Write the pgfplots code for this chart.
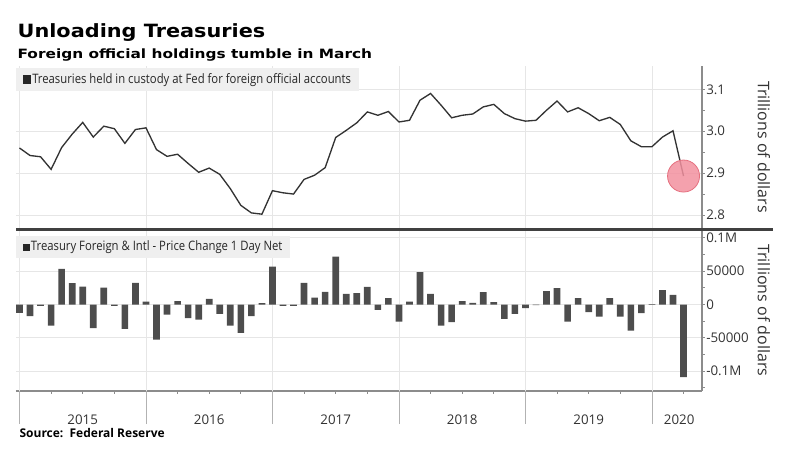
\documentclass[border=0pt]{standalone}
\usepackage{fontspec}
\setmainfont{Open Sans}
\newfontfamily\titlefont{DejaVu Sans}[FakeStretch=1.14]
\newfontfamily\subtitlefont{DejaVu Sans}[FakeStretch=1.2]
\newfontfamily\condfont{Open Sans}[FakeStretch=0.87]
\usepackage{pgfplots}
\pgfplotsset{compat=1.18}
\usepackage{pgfplotstable}

\definecolor{barc}{HTML}{4D4D4D}
\definecolor{linec}{HTML}{333333}
\definecolor{axisc}{HTML}{8C8C8C}
\definecolor{gridc}{HTML}{E6E6E6}
\definecolor{legbg}{HTML}{EFEFEF}
\definecolor{circfill}{HTML}{F2909F}
\definecolor{circdraw}{HTML}{E5707F}
\definecolor{txt}{HTML}{333333}

\newcommand\legfont{\condfont\fontsize{9.75pt}{11pt}\selectfont}

% Treasuries held in custody at Fed for foreign official accounts (trillions)
\pgfplotstableread{
i v
0 2.960
1 2.942
2 2.939
3 2.909
4 2.961
5 2.993
6 3.021
7 2.986
8 3.012
9 3.006
10 2.971
11 3.004
12 3.008
13 2.956
14 2.940
15 2.945
16 2.923
17 2.902
18 2.912
19 2.897
20 2.863
21 2.823
22 2.805
23 2.802
24 2.858
25 2.853
26 2.850
27 2.885
28 2.895
29 2.913
30 2.985
31 3.002
32 3.020
33 3.046
34 3.038
35 3.047
36 3.022
37 3.026
38 3.074
39 3.090
40 3.062
41 3.032
42 3.038
43 3.041
44 3.058
45 3.064
46 3.042
47 3.030
48 3.024
49 3.026
50 3.050
51 3.072
52 3.046
53 3.056
54 3.042
55 3.025
56 3.033
57 3.016
58 2.977
59 2.963
60 2.963
61 2.986
62 3.001
63 2.893
}\holdings

% Treasury Foreign & Intl - Price Change 1 Day Net
\pgfplotstableread{
i v
0 -12500
1 -17500
2 -2000
3 -31500
4 53500
5 32000
6 27000
7 -35500
8 25500
9 -2000
10 -36500
11 32500
12 4500
13 -52500
14 -15000
15 5000
16 -20500
17 -22500
18 8500
19 -14000
20 -31500
21 -42500
22 -17500
23 2000
24 57000
25 -2000
26 -2000
27 32500
28 10500
29 19000
30 72000
31 16000
32 17000
33 26500
34 -8000
35 9500
36 -25500
37 4500
38 48500
39 16000
40 -31500
41 -26500
42 5000
43 2500
44 18500
45 3500
46 -21500
47 -14000
48 -5500
49 -1000
50 20000
51 24500
52 -25500
53 9500
54 -11500
55 -18000
56 9500
57 -18000
58 -39000
59 -13000
60 500
61 21500
62 14500
63 -109000
}\changes

\pgfplotsset{
  panel/.style={
    scale only axis, width=514.5pt,
    xmin=-0.33, xmax=64.75,
    axis y line*=right, axis x line*=bottom,
    axis line style={-, draw=axisc, line width=0.8pt},
    tick align=outside,
    major tick length=2pt, minor tick length=2pt,
    tick style={draw=axisc, line width=0.6pt},
    scaled y ticks=false,
    yticklabel style={font=\fontsize{10pt}{12pt}\selectfont, text=txt, inner xsep=1pt},
    ylabel={Trillions of dollars},
    ylabel style={at={(axis description cs:1.0904,0.5)}, anchor=center, rotate=180,
      font=\fontsize{12pt}{14pt}\selectfont, text=txt},
    major grid style={draw=gridc, line width=0.6pt},
    ymajorgrids,
    legend style={fill=legbg, draw=none, anchor=north west, font=\legfont,
      inner xsep=5pt, inner ysep=2pt, nodes={inner xsep=0.8pt, inner ysep=2pt},
      legend cell align=left, text=black!85},
  }
}

\begin{document}
\begin{tikzpicture}
\path[use as bounding box] (0pt,0pt) rectangle (600pt,-345pt);

\node[anchor=base west, inner sep=0pt] at (13pt,-27.9pt)
  {\titlefont\bfseries\fontsize{13.7pt}{16pt}\selectfont Unloading Treasuries};
\node[anchor=base west, inner sep=0pt] at (13pt,-43.9pt)
  {\subtitlefont\bfseries\fontsize{9.6pt}{12pt}\selectfont Foreign official holdings tumble in March};
\node[anchor=base west, inner sep=0pt] at (14.5pt,-327.75pt)
  {\bfseries\fontsize{9pt}{11pt}\selectfont Source:\ \ Federal Reserve};

% top panel
\begin{axis}[panel,
  at={(12pt,-171pt)}, anchor=south west, height=121.5pt,
  ymin=2.769, ymax=3.1556,
  ytick={2.8,2.9,3.0,3.1}, yticklabels={2.8,2.9,3.0,3.1},
  minor ytick={2.85,2.95,3.05},
  xtick={0,12,24,36,48,60}, xticklabels={},
  xmajorgrids, xtick style={draw=none},
  x axis line style={draw=none},
  legend style={at={(axis description cs:0,0.988)}},
]
\addplot[only marks, mark=*, mark size=12pt,
  mark options={fill=circfill, draw=circdraw, line width=0.6pt, fill opacity=0.85},
  forget plot] coordinates {(63,2.893)};
\addplot[linec, line width=1pt, mark=none,
  legend image code/.code={\fill[black!85] (0pt,-2.6pt) rectangle (5.2pt,2.6pt);}]
  table[x=i, y=v] {\holdings};
\addlegendentry{Treasuries held in custody at Fed for foreign official accounts}
\end{axis}

% bottom panel
\begin{axis}[panel,
  at={(12pt,-293.25pt)}, anchor=south west, height=121.1pt,
  ymin=-129685, ymax=112444,
  ytick={-100000,-50000,0,50000,100000},
  yticklabels={-0.1M,-50000,0,50000,0.1M},
  minor ytick={-125000,-75000,-25000,25000,75000},
  xtick={0,3,...,63},
  xticklabels={,,2015,,,,2016,,,,2017,,,,2018,,,,2019,,,{2020\hspace*{6.5pt}}},
  xticklabel style={anchor=base, yshift=-23pt, font=\fontsize{10pt}{12pt}\selectfont, text=txt},
  extra x ticks={0,12,24,36,48,60}, extra x tick labels={},
  extra x tick style={grid=major, major tick length=24.75pt,
    tick style={draw=black!30, line width=0.6pt}},
  legend style={at={(axis description cs:0,0.963)}},
]
\addplot[ybar, bar width=5pt, fill=barc, draw=none,
  legend image code/.code={\fill[black!85] (0pt,-2.6pt) rectangle (5.2pt,2.6pt);}]
  table[x=i, y=v] {\changes};
\addlegendentry{Treasury Foreign \& Intl - Price Change 1 Day Net}
\end{axis}

\draw[line width=2.4pt, black!75] (12pt,-172pt) -- (580pt,-172pt);
\end{tikzpicture}
\end{document}
